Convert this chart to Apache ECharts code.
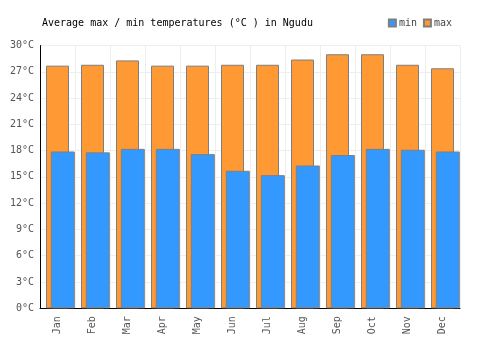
<!DOCTYPE html>
<html><head><meta charset="utf-8">
<script src="https://cdn.jsdelivr.net/npm/echarts@6/dist/echarts.min.js"></script>
<style>html,body{margin:0;padding:0;background:#fff}#c{width:500px;height:350px}</style>
</head><body><div id="c"></div>
<script>
const months = ['Jan','Feb','Mar','Apr','May','Jun','Jul','Aug','Sep','Oct','Nov','Dec'];
const maxTemps = [27.7, 27.8, 28.3, 27.7, 27.7, 27.8, 27.8, 28.4, 29.0, 29.0, 27.8, 27.4];
const minTemps = [17.9, 17.8, 18.2, 18.2, 17.6, 15.7, 15.2, 16.3, 17.5, 18.2, 18.1, 17.9];
const yTicks = [0, 3, 6, 9, 12, 15, 18, 21, 24, 27, 30];

const FONT = 'DejaVu Sans Mono';
const chart = echarts.init(document.getElementById('c'), null, {renderer: 'canvas'});
chart.setOption({
  animation: false,
  backgroundColor: '#fff',
  title: {
    text: 'Average max / min temperatures (°C ) in Ngudu',
    left: 37, top: 13,
    textStyle: {fontFamily: FONT, fontSize: 10, fontWeight: 'normal', color: '#000'}
  },
  legend: {
    right: 43, top: 13,
    itemWidth: 7, itemHeight: 7, itemGap: 6,
    data: ['min', 'max'],
    textStyle: {fontFamily: FONT, fontSize: 10, color: '#444', padding: [0, 0, 0, -2]},
    icon: 'rect'
  },
  grid: [
    {left: 40, right: 40, top: 45.5, bottom: 41.7},
    {left: 45.3, right: 34.7, top: 45.5, bottom: 41.7}
  ],
  xAxis: [
    {
      type: 'category', data: months, gridIndex: 0,
      axisLine: {show: true, lineStyle: {color: '#000', width: 1}},
      axisTick: {show: false},
      splitLine: {show: true, lineStyle: {color: '#eee', width: 1}},
      axisLabel: {rotate: 90, fontFamily: FONT, fontSize: 10, color: '#555', margin: 8, interval: 0}
    },
    {
      type: 'category', data: months, gridIndex: 1, show: false
    }
  ],
  yAxis: [
    {
      type: 'value', gridIndex: 0, min: yTicks[0], max: yTicks[yTicks.length - 1], interval: 3,
      axisLine: {show: true, lineStyle: {color: '#000', width: 1}},
      axisTick: {show: false},
      splitLine: {show: true, lineStyle: {color: '#eee', width: 1}},
      axisLabel: {formatter: '{value}°C', fontFamily: FONT, fontSize: 10, color: '#555', margin: 6}
    },
    {
      type: 'value', gridIndex: 1, min: yTicks[0], max: yTicks[yTicks.length - 1], interval: 3, show: false
    }
  ],
  series: [
    {
      name: 'max', type: 'bar', xAxisIndex: 0, yAxisIndex: 0, data: maxTemps, barWidth: 23, z: 2,
      itemStyle: {color: '#ff9933', borderColor: '#7f7f7f', borderWidth: 1}
    },
    {
      name: 'min', type: 'bar', xAxisIndex: 1, yAxisIndex: 1, data: minTemps, barWidth: 24, z: 3,
      itemStyle: {color: '#3399ff', borderColor: '#7f7f7f', borderWidth: 1}
    }
  ]
});
</script></body></html>
